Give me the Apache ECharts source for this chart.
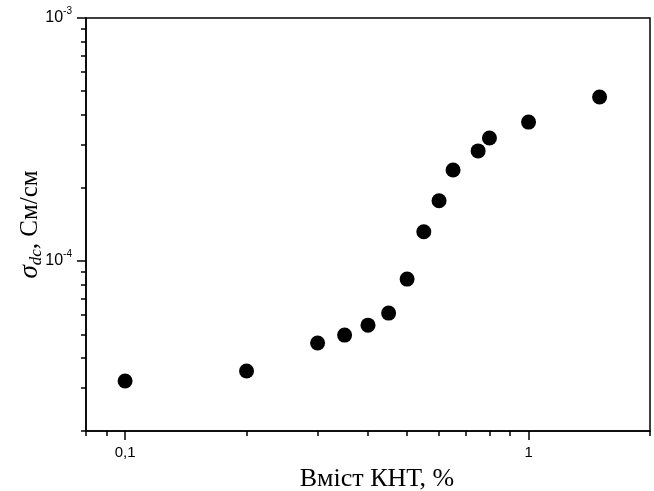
<!DOCTYPE html>
<html><head><meta charset="utf-8">
<script src="https://cdn.jsdelivr.net/npm/echarts@6/dist/echarts.min.js"></script>
<style>html,body{margin:0;padding:0;background:#fff}#c{width:654px;height:491px}</style>
</head><body><div id="c"></div>
<script>
const xValues = [0.1, 0.2, 0.3, 0.35, 0.4, 0.45, 0.5, 0.55, 0.6, 0.65, 0.75, 0.8, 1.0, 1.5];
const yValues = [3.21e-5, 3.53e-5, 4.60e-5, 4.96e-5, 5.45e-5, 6.11e-5, 8.43e-5, 1.32e-4, 1.77e-4, 2.37e-4, 2.84e-4, 3.21e-4, 3.73e-4, 4.73e-4];
const xMajorTicks = [0.1, 1];
const xMinorTicks = [0.08, 0.09, 0.2, 0.3, 0.4, 0.5, 0.6, 0.7, 0.8, 0.9, 2];
const xTickLabels = ['0,1', '1'];
const yMajorTicks = [1e-4, 1e-3];
const yMinorTicks = [2e-5, 3e-5, 4e-5, 5e-5, 6e-5, 7e-5, 8e-5, 9e-5, 2e-4, 3e-4, 4e-4, 5e-4, 6e-4, 7e-4, 8e-4, 9e-4];
const yTickExponents = ['-4', '-3'];

const chart = echarts.init(document.getElementById('c'), null, {renderer: 'canvas'});
const black = '#000';
const sans = '"Liberation Sans"';
const serif = '"Liberation Serif"';

function xLabel(v) {
  const i = xMajorTicks.findIndex(t => Math.abs(Math.log10(t) - Math.log10(v)) < 1e-6);
  return i >= 0 ? xTickLabels[i] : '';
}
function yLabel(v) {
  const i = yMajorTicks.findIndex(t => Math.abs(Math.log10(t) - Math.log10(v)) < 1e-6);
  return i >= 0 ? '{b|10}{s|' + yTickExponents[i] + '}' : '';
}

const xRange = {min: 0.08, max: 2};
const yRange = {min: 2e-5, max: 1e-3};

chart.setOption({
  animation: false,
  backgroundColor: '#fff',
  grid: {left: 86, right: 4, top: 18, bottom: 60, show: true, borderColor: black, borderWidth: 1.5, backgroundColor: 'transparent', containLabel: false, outerBoundsMode: 'none'},
  xAxis: [
    {
      type: 'log', logBase: 10, min: xRange.min, max: xRange.max, position: 'bottom',
      name: 'Вміст КНТ, %', nameLocation: 'middle', nameGap: 35, nameMoveOverlap: false,
      nameTextStyle: {fontFamily: serif, fontSize: 26, color: black, padding: [0, 0, 0, 18]},
      axisLine: {show: true, lineStyle: {color: black, width: 1.5}},
      axisTick: {show: true, inside: false, length: 9, lineStyle: {color: black, width: 1.5}, customValues: xMajorTicks},
      axisLabel: {show: true, margin: 14, fontFamily: sans, fontSize: 15, color: black, customValues: xMajorTicks, formatter: xLabel},
      splitLine: {show: false}, minorTick: {show: false}
    },
    {
      type: 'log', logBase: 10, min: xRange.min, max: xRange.max, position: 'bottom', gridIndex: 0,
      axisLine: {show: false},
      axisTick: {show: true, inside: false, length: 5, lineStyle: {color: black, width: 1.5}, customValues: xMinorTicks},
      axisLabel: {show: false}, splitLine: {show: false}
    }
  ],
  yAxis: [
    {
      type: 'log', logBase: 10, min: yRange.min, max: yRange.max, position: 'left',
      name: '{sig|σ}{sub|dc}{t|, См/см}', nameLocation: 'middle', nameGap: 41, nameRotate: 90, nameMoveOverlap: false,
      nameTextStyle: {
        color: black,
        rich: {
          sig: {fontFamily: serif, fontStyle: 'italic', fontSize: 27, color: black, verticalAlign: 'middle', lineHeight: 30},
          sub: {fontFamily: serif, fontStyle: 'italic', fontSize: 17, color: black, verticalAlign: 'bottom', lineHeight: 14},
          t: {fontFamily: serif, fontSize: 25, color: black, verticalAlign: 'middle', lineHeight: 30}
        }
      },
      axisLine: {show: true, lineStyle: {color: black, width: 1.5}},
      axisTick: {show: true, inside: false, length: 9, lineStyle: {color: black, width: 1.5}, customValues: yMajorTicks},
      axisLabel: {
        show: true, margin: 14, color: black, customValues: yMajorTicks, formatter: yLabel,
        rich: {
          b: {fontFamily: sans, fontSize: 16, color: black, verticalAlign: 'middle', lineHeight: 24},
          s: {fontFamily: sans, fontSize: 10, color: black, verticalAlign: 'top', lineHeight: 12}
        }
      },
      splitLine: {show: false}
    },
    {
      type: 'log', logBase: 10, min: yRange.min, max: yRange.max, position: 'left', gridIndex: 0,
      axisLine: {show: false},
      axisTick: {show: true, inside: false, length: 5, lineStyle: {color: black, width: 1.5}, customValues: yMinorTicks},
      axisLabel: {show: false}, splitLine: {show: false}
    }
  ],
  series: [{
    type: 'scatter', xAxisIndex: 0, yAxisIndex: 0,
    symbol: 'circle', symbolSize: 15,
    itemStyle: {color: black, opacity: 1},
    data: xValues.map((x, i) => [x, yValues[i]])
  }]
});
</script></body></html>
